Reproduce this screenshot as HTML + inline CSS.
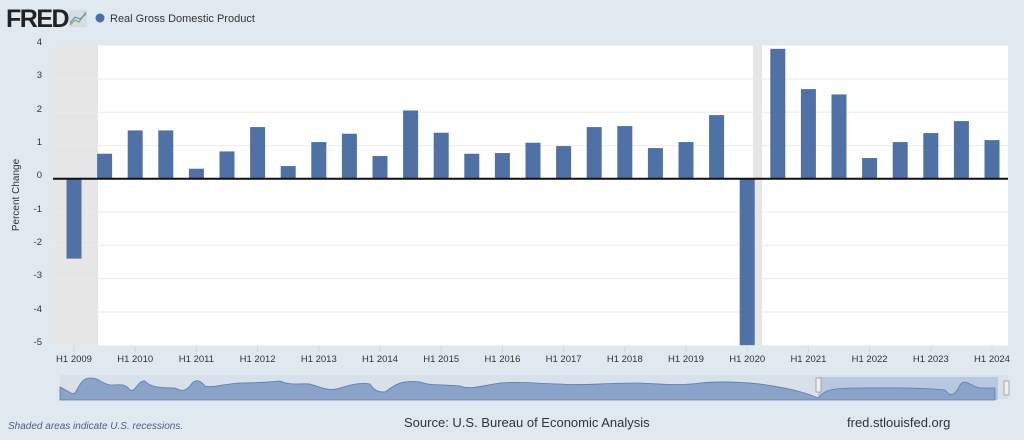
<!DOCTYPE html>
<html><head><style>
body{margin:0;width:1024px;height:435px;background:#e1e9f0;font-family:"Liberation Sans",sans-serif;overflow:hidden}
</style></head><body>
<svg width="1024" height="435" xmlns="http://www.w3.org/2000/svg" font-family="Liberation Sans, sans-serif">
<rect width="1024" height="435" fill="#e1e9f0"/>
<text x="6" y="27" font-size="25" font-weight="bold" fill="#222" letter-spacing="-1.5">FRED</text>
<rect x="69" y="10" width="18" height="17" fill="#d4dde6"/>
<polyline points="70,25 75,20 79,22 86,12" fill="none" stroke="#7ab04a" stroke-width="1.2"/>
<polyline points="70,23 75,17 80,19 86,14" fill="none" stroke="#5b8ac0" stroke-width="1"/>
<circle cx="100" cy="18" r="4.5" fill="#4a6fa5"/>
<text x="110" y="22" font-size="11" fill="#333">Real Gross Domestic Product</text>
<rect x="53" y="45.5" width="955" height="300" fill="#fff"/>
<rect x="53" y="45.5" width="45" height="300" fill="#e6e6e6"/>
<rect x="753" y="45.5" width="9" height="300" fill="#e6e6e6"/>
<g stroke="#ebebeb" stroke-width="1">
<line x1="53" x2="1008" y1="79" y2="79"/><line x1="53" x2="1008" y1="112.3" y2="112.3"/><line x1="53" x2="1008" y1="145.6" y2="145.6"/>
<line x1="53" x2="1008" y1="212" y2="212"/><line x1="53" x2="1008" y1="245.3" y2="245.3"/><line x1="53" x2="1008" y1="278.6" y2="278.6"/><line x1="53" x2="1008" y1="312" y2="312"/>
</g>
<g font-size="9.5" fill="#333" text-anchor="end">
<text x="42" y="45">4</text><text x="42" y="78">3</text><text x="42" y="112">2</text><text x="42" y="145">1</text><text x="42" y="178">0</text><text x="42" y="212">-1</text><text x="42" y="245">-2</text><text x="42" y="278">-3</text><text x="42" y="312">-4</text><text x="42" y="345">-5</text>
</g>
<text transform="translate(19,195) rotate(-90)" font-size="10" fill="#333" text-anchor="middle">Percent Change</text>
<g fill="#4f71a5" id="bars"></g>
<line x1="53" x2="1008" y1="178.7" y2="178.7" stroke="#111" stroke-width="2"/>
<g id="ticks" font-size="9.5" fill="#333" text-anchor="middle"></g>
<rect x="60" y="375" width="948" height="24" fill="#d8e0ea"/>
<rect x="818" y="377" width="180" height="23" fill="#b8c8e0"/>
<path d="M60,387 C70,392 72,395 75,393 C80,385 82,378 90,378 C100,378 100,383 110,385 C120,385 125,383 130,390 C135,393 138,380 145,381 C150,387 160,388 175,388 C180,390 183,393 190,386 C195,378 200,380 205,386 C210,388 220,385 230,384 C240,382 250,384 280,381 C290,386 300,383 310,384 C320,387 330,392 340,388 C350,385 360,382 370,384 C375,392 380,392 385,392 C395,385 400,380 420,382 C430,386 440,384 460,386 C470,390 480,386 500,383 C520,381 540,384 560,384 C580,386 600,383 640,383 C660,384 680,386 700,383 C720,381 740,382 760,384 C780,387 800,390 818,398 C825,390 830,388 860,388 C880,388 920,387 945,390 C950,397 955,396 960,385 C965,378 970,386 980,388 L995,388 L995,400 L60,400Z" fill="#8aa3c8" stroke="#5a7bb0" stroke-width="0.8"/>
<rect x="816" y="378" width="5" height="14" fill="#eee" stroke="#999" stroke-width="0.8"/>
<rect x="1004" y="381" width="5" height="14" fill="#eee" stroke="#999" stroke-width="0.8"/>
<text x="8" y="429" font-size="10" font-style="italic" fill="#4a5f86">Shaded areas indicate U.S. recessions.</text>
<text x="404" y="427" font-size="13" fill="#333">Source: U.S. Bureau of Economic Analysis</text>
<text x="847" y="427" font-size="13" fill="#333">fred.stlouisfed.org</text>
</svg>
<script>
var v=[-2.4,0.75,1.45,1.45,0.3,0.82,1.55,0.38,1.1,1.35,0.68,2.05,1.38,0.75,0.77,1.08,0.98,1.55,1.58,0.92,1.1,1.91,-5,3.9,2.69,2.53,0.62,1.1,1.37,1.73,1.16];
var ns="http://www.w3.org/2000/svg",g=document.getElementById("bars"),t=document.getElementById("ticks");
v.forEach(function(x,i){var c=74+30.6*i,r=document.createElementNS(ns,"rect");var y0=178.7,y1=178.7-33.3*x;
r.setAttribute("x",c-7.5);r.setAttribute("width",15);r.setAttribute("y",Math.min(y0,y1));r.setAttribute("height",Math.abs(y1-y0));g.appendChild(r);
if(i%2==0){var tx=document.createElementNS(ns,"text");tx.setAttribute("x",c);tx.setAttribute("y",362);tx.textContent="H1 "+(2009+i/2);t.appendChild(tx);
var l=document.createElementNS(ns,"line");l.setAttribute("x1",c);l.setAttribute("x2",c);l.setAttribute("y1",346);l.setAttribute("y2",352);l.setAttribute("stroke","#ccd6e0");t.appendChild(l);}});
</script>
</body></html>
